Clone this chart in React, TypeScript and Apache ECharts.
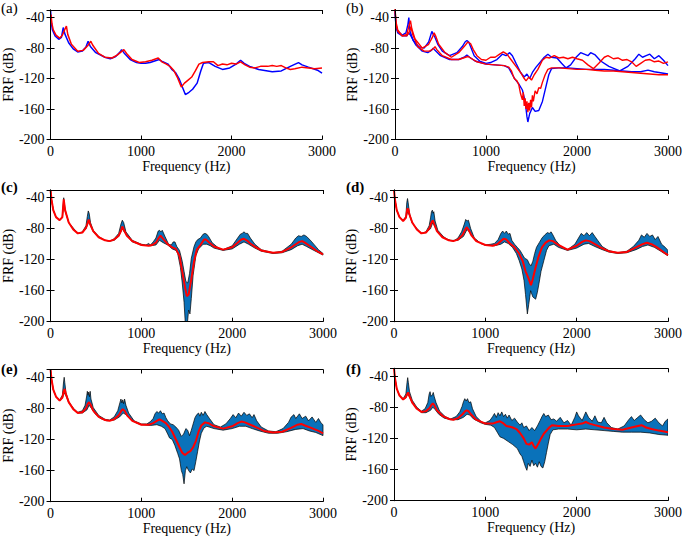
import React, { useEffect, useRef } from "react";
import * as echarts from "echarts";

type P = [number, number];

const panelLabels = ["(a)", "(b)", "(c)", "(d)", "(e)", "(f)"];
const xName = "Frequency (Hz)";
const yName = "FRF (dB)";

// ---- Panel (a)
const aBlue: P[] = [[0,-30],[10,-48],[20,-56],[50,-64],[90,-68.5],[120,-66],[140,-53],[160,-62],[200,-73],[250,-81],[300,-85],[350,-84],[390,-79],[415,-71],[440,-78],[500,-86],[600,-92],[660,-94],[720,-91],[770,-85],[785,-82],[810,-86],[880,-95],[950,-99],[1000,-100],[1050,-100],[1100,-99],[1150,-97],[1200,-95],[1240,-98],[1300,-101],[1340,-108],[1380,-112],[1420,-120],[1460,-132],[1490,-141],[1530,-138],[1570,-134],[1620,-126],[1660,-110],[1690,-100],[1750,-99],[1820,-104],[1900,-108],[1980,-106],[2050,-101],[2100,-96],[2140,-100],[2200,-104],[2300,-108],[2450,-111],[2550,-110],[2650,-104],[2740,-99],[2780,-102],[2850,-105],[2950,-109],[3000,-113]];
const aRed: P[] = [[0,-40],[5,-36],[15,-48],[30,-56],[60,-63],[100,-67],[130,-63],[160,-55],[175,-51],[190,-62],[230,-75],[300,-84],[360,-83],[410,-77],[445,-71],[465,-76],[530,-87],[600,-92],[680,-93],[740,-89],[790,-84],[810,-82],[840,-87],[900,-95],[980,-99],[1050,-98],[1120,-96],[1190,-93],[1230,-98],[1280,-101],[1320,-104],[1360,-109],[1400,-118],[1445,-131],[1480,-126],[1520,-122],[1560,-118],[1600,-110],[1640,-101],[1680,-99],[1750,-98],[1800,-98],[1850,-103],[1900,-101],[1950,-102],[2000,-100],[2050,-101],[2100,-98],[2150,-102],[2200,-105],[2260,-106],[2320,-104],[2400,-104],[2450,-103],[2500,-104],[2550,-103],[2600,-106],[2650,-108],[2700,-107],[2780,-105],[2850,-106],[2920,-107],[3000,-106]];

// ---- Panel (b)
const bBlueUpper: P[] = [[0,-30],[10,-50],[30,-58],[80,-63],[120,-60],[140,-50],[152,-40],[165,-58],[200,-70],[260,-78],[320,-80],[370,-72],[395,-62],[405,-58],[420,-62],[440,-66],[470,-75],[520,-84],[600,-90],[680,-86],[740,-78],[770,-72],[790,-70],[810,-72],[830,-78],[870,-90],[930,-97],[1000,-100],[1050,-99],[1120,-95],[1180,-88],[1220,-90],[1260,-86],[1290,-90],[1330,-100],[1380,-112],[1420,-118],[1450,-114],[1480,-120],[1510,-112],[1550,-105],[1600,-98],[1640,-92],[1680,-88],[1720,-92],[1780,-93],[1830,-100],[1880,-106],[1930,-102],[1990,-92],[2040,-86],[2080,-88],[2120,-90],[2150,-86],[2200,-89],[2260,-97],[2350,-104],[2470,-110],[2560,-104],[2640,-94],[2680,-88],[2720,-92],[2760,-90],[2800,-88],[2850,-94],[2900,-90],[2950,-96],[3000,-103]];
const bRedUpper: P[] = [[0,-28],[10,-45],[30,-56],[80,-64],[130,-62],[155,-50],[170,-44],[185,-55],[220,-68],[300,-80],[370,-75],[410,-66],[430,-60],[450,-65],[480,-75],[550,-86],[620,-92],[700,-86],[760,-78],[800,-72],[830,-74],[860,-82],[900,-90],[950,-95],[1000,-96],[1050,-92],[1100,-92],[1150,-88],[1190,-85],[1230,-88],[1280,-96],[1330,-104],[1380,-112],[1420,-120],[1440,-123],[1470,-118],[1500,-122],[1530,-115],[1570,-108],[1620,-96],[1660,-92],[1700,-93],[1750,-90],[1800,-93],[1850,-92],[1900,-94],[1950,-92],[2000,-94],[2060,-96],[2120,-102],[2180,-107],[2240,-100],[2300,-92],[2340,-90],[2400,-94],[2450,-93],[2500,-96],[2550,-95],[2600,-98],[2650,-104],[2700,-100],[2750,-96],[2800,-95],[2850,-98],[2900,-97],[2950,-100],[3000,-98]];
const bBlueLower: P[] = [[0,-30],[10,-52],[30,-60],[80,-64],[130,-64],[150,-60],[170,-63],[230,-76],[300,-84],[360,-86],[400,-83],[420,-80],[440,-83],[500,-90],[600,-95],[700,-95],[760,-92],[790,-89],[820,-92],[880,-97],[1000,-101],[1100,-102],[1200,-103],[1250,-106],[1290,-115],[1320,-121],[1360,-127],[1400,-135],[1430,-150],[1450,-170],[1460,-177],[1480,-166],[1510,-158],[1540,-163],[1580,-162],[1620,-150],[1660,-130],[1690,-115],[1720,-107],[1800,-106],[1900,-106],[2000,-107],[2100,-108],[2200,-108],[2300,-108],[2400,-109],[2500,-110],[2600,-111],[2700,-111],[2780,-109],[2850,-111],[2950,-113],[3000,-114]];
const bRedLower: P[] = [[0,-26],[10,-48],[30,-58],[80,-64],[130,-64],[160,-58],[175,-52],[195,-62],[250,-78],[320,-84],[380,-84],[420,-81],[440,-78],[460,-82],[520,-90],[620,-95],[700,-95],[750,-93],[800,-91],[830,-93],[900,-98],[1000,-101],[1100,-102],[1200,-103],[1250,-105],[1280,-110],[1310,-120],[1340,-123],[1360,-128],[1380,-140],[1400,-148],[1410,-138],[1420,-156],[1430,-146],[1440,-160],[1450,-150],[1460,-164],[1470,-152],[1480,-162],[1490,-148],[1500,-158],[1510,-142],[1520,-150],[1540,-136],[1560,-140],[1580,-132],[1600,-133],[1620,-125],[1650,-115],[1680,-108],[1720,-106],[1800,-106],[1900,-107],[2000,-108],[2100,-108],[2200,-109],[2300,-110],[2400,-110],[2500,-111],[2600,-112],[2700,-113],[2800,-114],[2900,-115],[3000,-115]];

// ---- Panel (c)
const cMean: P[] = [[0,-30],[10,-42],[30,-56],[60,-65],[100,-69],[130,-65],[145,-42],[160,-56],[200,-72],[250,-81],[300,-86],[350,-85],[390,-79],[410,-72],[420,-68],[435,-74],[470,-83],[530,-91],[600,-95],[650,-96],[700,-94],[750,-89],[775,-83],[790,-77],[805,-81],[840,-89],[900,-96],[1000,-101],[1080,-102],[1120,-101],[1160,-98],[1190,-92],[1210,-89],[1240,-93],[1290,-100],[1340,-104],[1380,-106],[1420,-115],[1450,-135],[1480,-155],[1500,-167],[1520,-165],[1550,-145],[1580,-122],[1610,-107],[1650,-101],[1690,-94],[1710,-94],[1750,-98],[1800,-103],[1900,-107],[2000,-104],[2060,-98],[2100,-94],[2130,-93],[2160,-95],[2200,-99],[2250,-103],[2320,-108],[2450,-111],[2550,-110],[2650,-104],[2700,-100],[2740,-97],[2770,-96],[2800,-98],[2850,-102],[2900,-106],[2950,-110],[3000,-113]];
const cUpper: P[] = [[0,-30],[10,-42],[30,-56],[60,-65],[100,-69],[130,-64],[145,-40],[160,-55],[200,-72],[250,-81],[300,-86],[350,-84],[390,-76],[405,-64],[415,-57],[425,-60],[440,-72],[470,-82],[530,-90],[600,-95],[650,-96],[700,-93],[750,-86],[775,-74],[790,-69],[805,-72],[830,-84],[900,-95],[1000,-100],[1050,-101],[1080,-99],[1100,-101],[1130,-97],[1160,-92],[1185,-83],[1200,-82],[1215,-84],[1230,-82],[1260,-90],[1300,-100],[1330,-101],[1350,-97],[1370,-97],[1390,-103],[1420,-108],[1450,-122],[1470,-135],[1490,-148],[1510,-150],[1530,-138],[1550,-118],[1580,-103],[1600,-97],[1620,-94],[1650,-92],[1680,-87],[1700,-86],[1720,-87],[1740,-90],[1780,-98],[1850,-105],[1900,-107],[2000,-102],[2060,-92],[2090,-87],[2110,-86],[2130,-84],[2150,-86],[2170,-86],[2200,-92],[2250,-100],[2320,-107],[2450,-111],[2550,-109],[2650,-100],[2700,-92],[2730,-89],[2760,-90],[2790,-88],[2820,-90],[2870,-96],[2950,-107],[3000,-112]];
const cLower: P[] = [[0,-30],[10,-42],[30,-56],[60,-65],[100,-69],[130,-66],[145,-44],[160,-57],[200,-72],[300,-86],[350,-85],[390,-80],[420,-71],[440,-76],[470,-84],[530,-91],[600,-95],[650,-96],[700,-95],[750,-90],[790,-80],[810,-84],[850,-90],[900,-97],[1000,-101],[1100,-102],[1160,-101],[1200,-95],[1240,-98],[1290,-101],[1340,-106],[1380,-108],[1400,-112],[1430,-130],[1450,-150],[1470,-175],[1485,-205],[1505,-205],[1520,-185],[1535,-190],[1550,-170],[1570,-140],[1600,-115],[1630,-106],[1680,-100],[1720,-100],[1760,-102],[1800,-105],[1900,-108],[2000,-106],[2080,-100],[2130,-97],[2180,-100],[2250,-105],[2320,-109],[2450,-112],[2550,-111],[2650,-107],[2720,-102],[2770,-100],[2820,-103],[2900,-108],[3000,-114]];

// ---- Panel (d)
const dMean: P[] = [[0,-30],[10,-42],[30,-56],[60,-65],[100,-70],[130,-66],[145,-55],[155,-54],[170,-62],[200,-72],[250,-81],[300,-86],[350,-85],[390,-79],[410,-72],[425,-69],[440,-74],[470,-83],[530,-91],[600,-95],[650,-96],[700,-94],[750,-88],[780,-81],[795,-78],[815,-81],[850,-89],[900,-96],[1000,-101],[1080,-102],[1130,-100],[1170,-96],[1200,-93],[1230,-94],[1270,-99],[1320,-104],[1370,-112],[1410,-122],[1440,-135],[1470,-143],[1500,-153],[1520,-145],[1550,-130],[1580,-117],[1620,-104],[1660,-98],[1700,-95],[1740,-96],[1800,-101],[1900,-107],[2000,-102],[2060,-97],[2100,-95],[2140,-96],[2200,-100],[2260,-104],[2350,-109],[2450,-111],[2550,-110],[2650,-104],[2720,-100],[2770,-98],[2820,-100],[2880,-104],[2950,-110],[3000,-114]];
const dUpper: P[] = [[0,-30],[10,-42],[30,-56],[60,-65],[100,-69],[130,-64],[140,-46],[148,-41],[155,-46],[170,-60],[200,-72],[250,-81],[300,-86],[350,-84],[385,-76],[400,-66],[410,-58],[420,-56],[428,-60],[436,-58],[450,-70],[480,-82],[540,-90],[600,-95],[650,-96],[700,-92],[740,-84],[770,-74],[785,-68],[800,-70],[815,-69],[840,-80],[880,-92],[950,-99],[1000,-101],[1060,-100],[1100,-99],[1140,-94],[1170,-86],[1190,-83],[1210,-86],[1230,-83],[1250,-87],[1270,-86],[1290,-95],[1320,-100],[1350,-104],[1380,-108],[1400,-112],[1430,-118],[1460,-120],[1480,-125],[1500,-128],[1520,-122],[1540,-112],[1560,-104],[1590,-98],[1620,-92],[1650,-88],[1680,-85],[1700,-86],[1720,-84],[1740,-88],[1770,-95],[1820,-102],[1900,-107],[1980,-100],[2020,-92],[2050,-86],[2080,-89],[2110,-85],[2140,-89],[2170,-85],[2200,-90],[2230,-95],[2280,-103],[2350,-108],[2450,-111],[2550,-109],[2620,-103],[2680,-95],[2710,-88],[2740,-91],[2770,-86],[2800,-90],[2830,-88],[2860,-94],[2890,-90],[2930,-100],[2970,-104],[3000,-108]];
const dLower: P[] = [[0,-30],[10,-42],[30,-56],[60,-65],[100,-70],[130,-66],[150,-58],[170,-63],[200,-73],[300,-86],[350,-85],[400,-80],[425,-72],[450,-78],[490,-86],[550,-92],[620,-95],[700,-95],[760,-90],[800,-81],[830,-85],[870,-92],[950,-99],[1000,-101],[1100,-102],[1170,-100],[1210,-97],[1250,-99],[1297,-104],[1340,-112],[1370,-121],[1400,-132],[1424,-147],[1440,-165],[1460,-190],[1475,-178],[1496,-160],[1520,-168],[1551,-171],[1570,-162],[1587,-151],[1610,-135],[1641,-121],[1670,-108],[1696,-102],[1750,-100],[1800,-104],[1900,-108],[2000,-105],[2080,-100],[2130,-99],[2200,-103],[2280,-107],[2350,-110],[2450,-112],[2550,-111],[2650,-107],[2720,-103],[2780,-101],[2850,-104],[2920,-109],[3000,-115]];

// ---- Panel (e)
const eMean: P[] = [[0,-30],[10,-42],[30,-56],[60,-65],[100,-70],[130,-66],[145,-58],[155,-55],[170,-62],[200,-72],[250,-81],[300,-86],[350,-85],[390,-80],[410,-74],[425,-72],[440,-75],[470,-83],[530,-91],[600,-95],[650,-96],[700,-94],[750,-89],[780,-83],[795,-81],[815,-83],[850,-90],[900,-96],[1000,-101],[1080,-101],[1130,-99],[1170,-96],[1200,-94],[1230,-96],[1270,-99],[1300,-103],[1340,-110],[1380,-120],[1420,-130],[1450,-137],[1480,-140],[1510,-137],[1540,-135],[1570,-130],[1600,-122],[1630,-110],[1660,-102],[1700,-98],[1740,-99],[1800,-103],[1900,-106],[2000,-103],[2060,-99],[2100,-97],[2140,-98],[2200,-101],[2260,-104],[2350,-109],[2450,-111],[2550,-110],[2650,-105],[2720,-101],[2760,-100],[2800,-102],[2870,-105],[2950,-109],[3000,-112]];
const eUpper: P[] = [[0,-30],[10,-42],[30,-56],[60,-65],[100,-69],[130,-63],[143,-46],[150,-40],[157,-47],[170,-60],[200,-71],[250,-80],[300,-85],[350,-83],[380,-76],[398,-64],[405,-58],[412,-63],[420,-59],[428,-65],[436,-58],[445,-68],[470,-79],[530,-89],[600,-94],[650,-95],[700,-91],[740,-83],[765,-72],[775,-68],[785,-73],[795,-69],[805,-74],[815,-68],[830,-76],[860,-86],[920,-96],[1000,-100],[1060,-100],[1100,-97],[1130,-93],[1150,-87],[1170,-84],[1190,-86],[1210,-83],[1230,-87],[1250,-86],[1270,-92],[1290,-96],[1320,-100],[1350,-101],[1380,-104],[1410,-108],[1440,-116],[1465,-113],[1490,-106],[1510,-108],[1530,-115],[1550,-108],[1570,-100],[1590,-92],[1610,-88],[1630,-86],[1645,-90],[1660,-85],[1680,-89],[1700,-84],[1720,-88],[1750,-93],[1800,-101],[1870,-104],[1930,-100],[1980,-93],[2010,-88],[2040,-92],[2070,-86],[2100,-90],[2130,-85],[2160,-89],[2190,-87],[2220,-92],[2240,-88],[2270,-96],[2320,-104],[2400,-109],[2480,-110],[2560,-106],[2620,-98],[2650,-91],[2680,-88],[2700,-93],[2740,-87],[2770,-93],[2810,-90],[2840,-96],[2880,-91],[2920,-98],[2950,-93],[2980,-99],[3000,-101]];
const eLower: P[] = [[0,-30],[10,-42],[30,-56],[60,-65],[100,-70],[130,-67],[150,-60],[170,-64],[200,-73],[300,-86],[350,-86],[400,-82],[425,-76],[450,-80],[490,-87],[550,-93],[620,-96],[700,-95],[760,-91],[800,-86],[830,-88],[870,-93],[950,-99],[1000,-101],[1100,-102],[1170,-101],[1220,-103],[1260,-106],[1290,-113],[1310,-118],[1340,-120],[1370,-128],[1400,-138],[1420,-145],[1440,-160],[1455,-165],[1470,-177],[1485,-160],[1500,-155],[1520,-160],[1540,-163],[1560,-158],[1580,-160],[1600,-148],[1620,-135],[1640,-122],[1660,-112],[1690,-105],[1720,-103],[1800,-106],[1900,-108],[2000,-106],[2080,-103],[2150,-103],[2220,-106],[2300,-109],[2400,-112],[2500,-112],[2600,-110],[2700,-107],[2780,-106],[2850,-109],[2920,-111],[3000,-115]];

// ---- Panel (f)
const fMean: P[] = [[0,-30],[10,-42],[30,-56],[60,-65],[100,-70],[130,-67],[145,-63],[155,-61],[170,-66],[200,-74],[250,-82],[300,-86],[350,-85],[390,-81],[410,-77],[425,-75],[440,-77],[470,-84],[530,-91],[600,-95],[650,-96],[700,-94],[750,-89],[780,-85],[795,-84],[815,-85],[850,-90],[900,-96],[1000,-101],[1080,-101],[1130,-99],[1160,-98],[1190,-100],[1230,-104],[1270,-105],[1300,-106],[1340,-108],[1380,-113],[1420,-120],[1450,-127],[1480,-128],[1510,-125],[1530,-130],[1550,-133],[1580,-127],[1610,-120],[1640,-114],[1670,-110],[1700,-106],[1730,-103],[1800,-104],[1900,-104],[2000,-102],[2060,-101],[2100,-99],[2140,-101],[2200,-103],[2300,-106],[2400,-108],[2500,-109],[2600,-106],[2670,-104],[2710,-103],[2760,-106],[2820,-108],[2900,-110],[3000,-112]];
const fUpper: P[] = [[0,-30],[10,-42],[30,-56],[60,-65],[100,-69],[130,-63],[143,-48],[150,-42],[157,-48],[170,-60],[200,-71],[250,-80],[300,-85],[340,-82],[370,-74],[385,-63],[395,-60],[405,-66],[420,-64],[430,-61],[440,-66],[460,-74],[500,-85],[560,-92],[620,-95],[680,-92],[720,-86],[745,-79],[760,-73],[775,-69],[790,-72],[805,-69],[820,-74],[840,-73],[860,-82],[900,-92],[960,-99],[1000,-100],[1050,-97],[1080,-92],[1100,-88],[1120,-93],[1140,-87],[1160,-91],[1180,-86],[1200,-92],[1220,-89],[1240,-94],[1260,-90],[1290,-97],[1320,-94],[1350,-99],[1380,-103],[1400,-100],[1420,-106],[1450,-104],[1480,-110],[1510,-106],[1540,-110],[1570,-104],[1600,-97],[1620,-92],[1640,-88],[1660,-92],[1690,-90],[1720,-96],[1750,-95],[1780,-98],[1820,-93],[1860,-100],[1900,-97],[1940,-103],[1980,-93],[2000,-86],[2020,-91],[2060,-97],[2100,-86],[2130,-93],[2170,-98],[2200,-91],[2230,-99],[2270,-100],[2300,-93],[2330,-100],[2380,-106],[2450,-108],[2520,-104],[2570,-96],[2600,-92],[2630,-97],[2670,-93],[2700,-90],[2740,-96],[2780,-100],[2820,-98],[2860,-94],[2900,-100],[2940,-104],[2970,-98],[3000,-95]];
const fLower: P[] = [[0,-30],[10,-42],[30,-56],[60,-65],[100,-70],[130,-68],[150,-63],[170,-67],[200,-75],[300,-87],[350,-87],[400,-84],[425,-80],[450,-83],[490,-89],[550,-94],[620,-96],[700,-96],[760,-93],[800,-89],[830,-90],[870,-95],[950,-100],[1000,-102],[1060,-103],[1100,-106],[1130,-112],[1160,-118],[1200,-120],[1250,-124],[1300,-128],[1350,-133],[1380,-140],[1400,-143],[1420,-150],[1440,-157],[1455,-161],[1470,-152],[1490,-156],[1510,-148],[1530,-155],[1550,-152],[1570,-157],[1590,-150],[1610,-156],[1630,-158],[1650,-150],[1670,-138],[1690,-126],[1710,-115],[1740,-109],[1800,-108],[1900,-108],[2000,-109],[2100,-108],[2200,-109],[2300,-110],[2400,-111],[2500,-112],[2600,-112],[2700,-112],[2800,-113],[2900,-115],[3000,-116]];

// ---- layout & style (not data)
const FONT = "Times New Roman, Liberation Serif, Times, serif";
const grids = [
  { left: 48, top: 10, width: 274, height: 129.5 },
  { left: 395, top: 10, width: 275, height: 129.5 },
  { left: 48, top: 190, width: 275, height: 131.7 },
  { left: 394, top: 190, width: 276, height: 131.7 },
  { left: 48, top: 369.5, width: 275, height: 132.2 },
  { left: 394, top: 368.3, width: 276, height: 132.4 },
];
const labelPos = [
  { x: 1, y: 0, bold: false },
  { x: 346, y: 0, bold: false },
  { x: 1, y: 179, bold: true },
  { x: 346, y: 179, bold: true },
  { x: 1, y: 361, bold: true },
  { x: 346, y: 361, bold: true },
];
const BLUE = "#0000FF";
const RED = "#FF0000";
const BAND = "#0A72BA";

export default function App() {
  const ref = useRef<HTMLDivElement>(null);
  useEffect(() => {
    if (!ref.current) return;
    const chart = echarts.init(ref.current, undefined, { renderer: "svg" });
    const xAxes: any[] = [];
    const yAxes: any[] = [];
    const series: any[] = [];
    const axisLine = { show: true, lineStyle: { color: "#000", width: 1 } };
    const tick = { show: true, inside: true, length: 4, lineStyle: { color: "#000" } };
    const lbl = { fontFamily: FONT, fontSize: 14, color: "#000" };
    grids.forEach((g, i) => {
      const common = { type: "value", gridIndex: i, z: 10, splitLine: { show: false }, axisLine, axisTick: tick };
      xAxes.push({ ...common, position: "bottom", min: 0, max: 3000, interval: 1000,
        name: xName, nameLocation: "middle", nameGap: 19,
        nameTextStyle: { fontFamily: FONT, fontSize: 14, color: "#000" },
        axisLabel: { ...lbl, margin: 5, formatter: (v: number) => String(v) } });
      xAxes.push({ ...common, position: "top", min: 0, max: 3000, interval: 1000, axisLabel: { show: false } });
      yAxes.push({ ...common, position: "left", min: -200, max: -30, interval: 40,
        name: yName, nameLocation: "middle", nameGap: 29.5, nameRotate: 90,
        nameTextStyle: { fontFamily: FONT, fontSize: 14, color: "#000" },
        axisLabel: { ...lbl, margin: 6, formatter: (v: number) => (v % 40 === 0 ? String(v) : "") } });
      yAxes.push({ ...common, position: "right", min: -200, max: -30, interval: 40, axisLabel: { show: false } });
    });
    const line = (gi: number, data: P[], color: string, width: number, extra: any = {}) => ({
      type: "line", xAxisIndex: gi * 2, yAxisIndex: gi * 2, data, symbol: "none", showSymbol: false,
      silent: true, clip: true, lineStyle: { color, width }, ...extra,
    });
    const band = (gi: number, up: P[], lo: P[]) => ({
      type: "custom", xAxisIndex: gi * 2, yAxisIndex: gi * 2, data: up, clip: true, silent: true, z: 2,
      renderItem: (params: any, api: any) => {
        if (params.dataIndex !== 0) return null;
        const pts = [...up.map((p) => api.coord(p)), ...lo.slice().reverse().map((p) => api.coord(p))];
        return { type: "polygon", shape: { points: pts }, style: { fill: BAND, stroke: "#000", lineWidth: 0.7 } };
      },
    });
    series.push(line(0, aBlue, BLUE, 1.5));
    series.push(line(0, aRed, RED, 1.5));
    series.push(line(1, bBlueLower, BLUE, 1.4));
    series.push(line(1, bBlueUpper, BLUE, 1.4));
    series.push(line(1, bRedLower, RED, 1.4));
    series.push(line(1, bRedUpper, RED, 1.4));
    const bands: [P[], P[], P[]][] = [
      [cUpper, cLower, cMean],
      [dUpper, dLower, dMean],
      [eUpper, eLower, eMean],
      [fUpper, fLower, fMean],
    ];
    bands.forEach(([up, lo, mean], k) => {
      const gi = k + 2;
      series.push(band(gi, up, lo));
      series.push(line(gi, mean, RED, 2, { z: 4 }));
    });
    chart.setOption({
      animation: false,
      backgroundColor: "#fff",
      textStyle: { fontFamily: FONT },
      grid: grids.map((g) => ({ ...g, containLabel: false })),
      xAxis: xAxes,
      yAxis: yAxes,
      series,
      graphic: labelPos.map((p, i) => ({
        type: "text", left: p.x, top: p.y, z: 100,
        style: { text: panelLabels[i], fontFamily: FONT, fontSize: 15, fontWeight: p.bold ? "bold" : "normal", fill: "#000" },
      })),
    });
    return () => chart.dispose();
  }, []);
  return <div ref={ref} style={{ position: "fixed", left: 0, top: 0, width: 685, height: 537, background: "#fff" }} />;
}
